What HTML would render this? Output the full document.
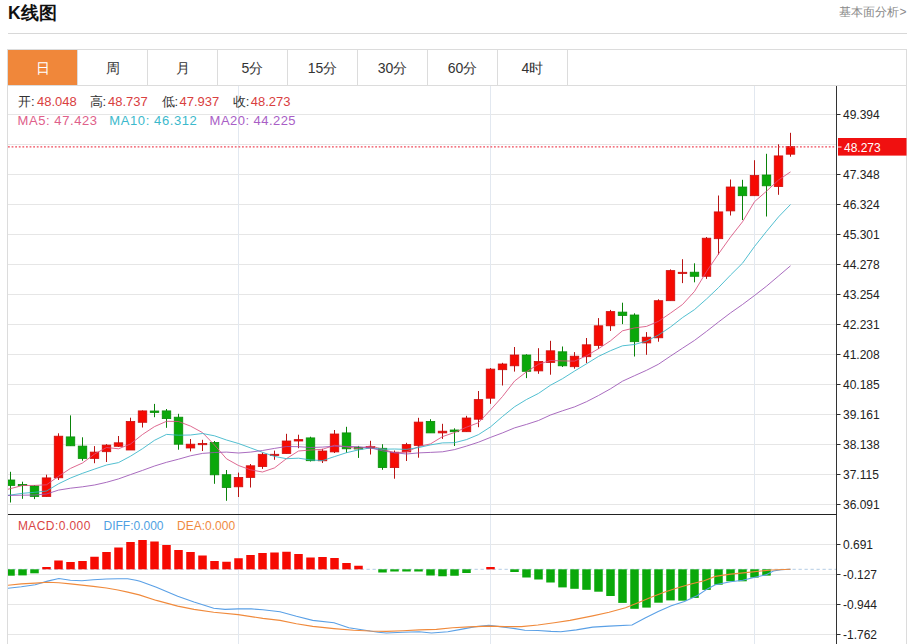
<!DOCTYPE html><html><head><meta charset="utf-8"><style>
html,body{margin:0;padding:0;background:#fff;}body{width:916px;height:644px;overflow:hidden;position:relative;font-family:"Liberation Sans",sans-serif;}
svg{position:absolute;left:0;top:0;}text{font-family:"Liberation Sans",sans-serif;}
</style></head><body>
<svg width="916" height="644" viewBox="0 0 916 644">
<defs><clipPath id="cm"><rect x="8" y="86" width="828.5" height="428"/></clipPath><clipPath id="cd"><rect x="8" y="515" width="828.5" height="129"/></clipPath></defs>
<text x="8" y="18.7" font-size="17.5" font-weight="bold" fill="#111">K线图</text>
<text x="906.5" y="15.6" font-size="12" fill="#8a8a8a" text-anchor="end">基本面分析&gt;</text>
<rect x="8" y="33" width="899" height="1" fill="#d8d8d8"/>
<rect x="7.5" y="49.5" width="899" height="620" fill="none" stroke="#dcdcdc" stroke-width="1"/>
<rect x="8" y="50" width="69.5" height="35" fill="#f0873a"/>
<text x="42.5" y="73" font-size="14" fill="#fff" text-anchor="middle">日</text>
<text x="112.5" y="73" font-size="14" fill="#333" text-anchor="middle">周</text>
<rect x="77" y="50" width="1" height="35" fill="#dcdcdc"/>
<text x="182.5" y="73" font-size="14" fill="#333" text-anchor="middle">月</text>
<rect x="147" y="50" width="1" height="35" fill="#dcdcdc"/>
<text x="252.5" y="73" font-size="14" fill="#333" text-anchor="middle">5分</text>
<rect x="217" y="50" width="1" height="35" fill="#dcdcdc"/>
<text x="322.5" y="73" font-size="14" fill="#333" text-anchor="middle">15分</text>
<rect x="287" y="50" width="1" height="35" fill="#dcdcdc"/>
<text x="392.5" y="73" font-size="14" fill="#333" text-anchor="middle">30分</text>
<rect x="357" y="50" width="1" height="35" fill="#dcdcdc"/>
<text x="462.5" y="73" font-size="14" fill="#333" text-anchor="middle">60分</text>
<rect x="427" y="50" width="1" height="35" fill="#dcdcdc"/>
<text x="532.5" y="73" font-size="14" fill="#333" text-anchor="middle">4时</text>
<rect x="497" y="50" width="1" height="35" fill="#dcdcdc"/>
<rect x="567" y="50" width="1" height="35" fill="#dcdcdc"/>
<rect x="8" y="85" width="898" height="1" fill="#dcdcdc"/>
<rect x="8" y="114" width="828" height="1" fill="#e6e6e6"/>
<rect x="8" y="144" width="828" height="1" fill="#e6e6e6"/>
<rect x="8" y="174" width="828" height="1" fill="#e6e6e6"/>
<rect x="8" y="204" width="828" height="1" fill="#e6e6e6"/>
<rect x="8" y="234" width="828" height="1" fill="#e6e6e6"/>
<rect x="8" y="264" width="828" height="1" fill="#e6e6e6"/>
<rect x="8" y="294" width="828" height="1" fill="#e6e6e6"/>
<rect x="8" y="324" width="828" height="1" fill="#e6e6e6"/>
<rect x="8" y="354" width="828" height="1" fill="#e6e6e6"/>
<rect x="8" y="384" width="828" height="1" fill="#e6e6e6"/>
<rect x="8" y="414" width="828" height="1" fill="#e6e6e6"/>
<rect x="8" y="444" width="828" height="1" fill="#e6e6e6"/>
<rect x="8" y="474" width="828" height="1" fill="#e6e6e6"/>
<rect x="8" y="504" width="828" height="1" fill="#e6e6e6"/>
<rect x="8" y="544" width="828" height="1" fill="#e6e6e6"/>
<rect x="8" y="574" width="828" height="1" fill="#e6e6e6"/>
<rect x="8" y="604" width="828" height="1" fill="#e6e6e6"/>
<rect x="8" y="634" width="828" height="1" fill="#e6e6e6"/>
<rect x="238" y="86" width="1" height="558" fill="#e2e8f0"/>
<rect x="490" y="86" width="1" height="558" fill="#e2e8f0"/>
<rect x="754" y="86" width="1" height="558" fill="#e2e8f0"/>
<rect x="836" y="86" width="1" height="558" fill="#333"/>
<rect x="8" y="514" width="828.5" height="1" fill="#222"/>
<rect x="837" y="114" width="3.5" height="1" fill="#333"/>
<text x="843" y="118.6" font-size="12" fill="#222">49.394</text>
<rect x="837" y="174" width="3.5" height="1" fill="#333"/>
<text x="843" y="178.6" font-size="12" fill="#222">47.348</text>
<rect x="837" y="204" width="3.5" height="1" fill="#333"/>
<text x="843" y="208.6" font-size="12" fill="#222">46.324</text>
<rect x="837" y="234" width="3.5" height="1" fill="#333"/>
<text x="843" y="238.6" font-size="12" fill="#222">45.301</text>
<rect x="837" y="264" width="3.5" height="1" fill="#333"/>
<text x="843" y="268.6" font-size="12" fill="#222">44.278</text>
<rect x="837" y="294" width="3.5" height="1" fill="#333"/>
<text x="843" y="298.6" font-size="12" fill="#222">43.254</text>
<rect x="837" y="324" width="3.5" height="1" fill="#333"/>
<text x="843" y="328.6" font-size="12" fill="#222">42.231</text>
<rect x="837" y="354" width="3.5" height="1" fill="#333"/>
<text x="843" y="358.6" font-size="12" fill="#222">41.208</text>
<rect x="837" y="384" width="3.5" height="1" fill="#333"/>
<text x="843" y="388.6" font-size="12" fill="#222">40.185</text>
<rect x="837" y="414" width="3.5" height="1" fill="#333"/>
<text x="843" y="418.6" font-size="12" fill="#222">39.161</text>
<rect x="837" y="444" width="3.5" height="1" fill="#333"/>
<text x="843" y="448.6" font-size="12" fill="#222">38.138</text>
<rect x="837" y="474" width="3.5" height="1" fill="#333"/>
<text x="843" y="478.6" font-size="12" fill="#222">37.115</text>
<rect x="837" y="504" width="3.5" height="1" fill="#333"/>
<text x="843" y="508.6" font-size="12" fill="#222">36.091</text>
<rect x="837" y="544" width="3.5" height="1" fill="#333"/>
<text x="843" y="548.6" font-size="12" fill="#222">0.691</text>
<rect x="837" y="574" width="3.5" height="1" fill="#333"/>
<text x="843" y="578.6" font-size="12" fill="#222">-0.127</text>
<rect x="837" y="604" width="3.5" height="1" fill="#333"/>
<text x="843" y="608.6" font-size="12" fill="#222">-0.944</text>
<rect x="837" y="634" width="3.5" height="1" fill="#333"/>
<text x="843" y="638.6" font-size="12" fill="#222">-1.762</text>
<text x="18" y="106.4" font-size="13" fill="#333">开:</text>
<text x="37" y="106.4" font-size="13" fill="#d94040">48.048</text>
<text x="89.5" y="106.4" font-size="13" fill="#333">高:</text>
<text x="108" y="106.4" font-size="13" fill="#d94040">48.737</text>
<text x="161.5" y="106.4" font-size="13" fill="#333">低:</text>
<text x="179.5" y="106.4" font-size="13" fill="#d94040">47.937</text>
<text x="232.7" y="106.4" font-size="13" fill="#333">收:</text>
<text x="250.7" y="106.4" font-size="13" fill="#d94040">48.273</text>
<text x="17.5" y="124.5" font-size="13" fill="#e0608a" textLength="79.5" lengthAdjust="spacing">MA5: 47.423</text>
<text x="109.3" y="124.5" font-size="13" fill="#3cb9cc" textLength="87.5" lengthAdjust="spacing">MA10: 46.312</text>
<text x="209.6" y="124.5" font-size="13" fill="#a95ec6" textLength="86" lengthAdjust="spacing">MA20: 44.225</text>
<text x="17.9" y="529.6" font-size="12" fill="#d94545" textLength="72.5" lengthAdjust="spacing">MACD:0.000</text>
<text x="103.5" y="529.6" font-size="12" fill="#4f9fe2">DIFF:0.000</text>
<text x="177.1" y="529.6" font-size="12" fill="#ef8a3f">DEA:0.000</text>
<g clip-path="url(#cm)">
<rect x="10.00" y="471.80" width="1" height="30.70" fill="#0a820a"/>
<rect x="6.25" y="480.00" width="8.5" height="5.40" fill="#0aa80a" stroke="#0a8c0a" stroke-width="0.8"/>
<rect x="22.00" y="481.70" width="1" height="17.10" fill="#0a820a"/>
<rect x="18.25" y="484.40" width="8.5" height="1.20" fill="#0aa80a" stroke="#0a8c0a" stroke-width="0.8"/>
<rect x="34.00" y="485.00" width="1" height="14.10" fill="#0a820a"/>
<rect x="30.25" y="486.00" width="8.5" height="10.50" fill="#0aa80a" stroke="#0a8c0a" stroke-width="0.8"/>
<rect x="46.00" y="474.70" width="1" height="21.80" fill="#b81414"/>
<rect x="42.25" y="477.90" width="8.5" height="18.60" fill="#f60a02" stroke="#cc1010" stroke-width="0.8"/>
<rect x="58.00" y="433.30" width="1" height="46.70" fill="#b81414"/>
<rect x="54.25" y="436.20" width="8.5" height="41.60" fill="#f60a02" stroke="#cc1010" stroke-width="0.8"/>
<rect x="70.00" y="415.40" width="1" height="30.40" fill="#0a820a"/>
<rect x="66.25" y="436.90" width="8.5" height="8.90" fill="#0aa80a" stroke="#0a8c0a" stroke-width="0.8"/>
<rect x="82.00" y="437.30" width="1" height="23.40" fill="#0a820a"/>
<rect x="78.25" y="446.10" width="8.5" height="12.30" fill="#0aa80a" stroke="#0a8c0a" stroke-width="0.8"/>
<rect x="94.00" y="446.10" width="1" height="17.10" fill="#b81414"/>
<rect x="90.25" y="452.10" width="8.5" height="6.30" fill="#f60a02" stroke="#cc1010" stroke-width="0.8"/>
<rect x="106.00" y="444.10" width="1" height="17.90" fill="#b81414"/>
<rect x="102.25" y="445.10" width="8.5" height="6.60" fill="#f60a02" stroke="#cc1010" stroke-width="0.8"/>
<rect x="118.00" y="436.00" width="1" height="11.00" fill="#b81414"/>
<rect x="114.25" y="442.80" width="8.5" height="3.50" fill="#f60a02" stroke="#cc1010" stroke-width="0.8"/>
<rect x="130.00" y="417.70" width="1" height="32.30" fill="#b81414"/>
<rect x="126.25" y="421.50" width="8.5" height="28.50" fill="#f60a02" stroke="#cc1010" stroke-width="0.8"/>
<rect x="142.00" y="410.40" width="1" height="17.10" fill="#b81414"/>
<rect x="138.25" y="410.90" width="8.5" height="11.40" fill="#f60a02" stroke="#cc1010" stroke-width="0.8"/>
<rect x="154.00" y="403.90" width="1" height="13.30" fill="#0a820a"/>
<rect x="150.25" y="411.00" width="8.5" height="1.50" fill="#0aa80a" stroke="#0a8c0a" stroke-width="0.8"/>
<rect x="166.00" y="409.00" width="1" height="18.80" fill="#0a820a"/>
<rect x="162.25" y="410.90" width="8.5" height="7.70" fill="#0aa80a" stroke="#0a8c0a" stroke-width="0.8"/>
<rect x="178.00" y="413.80" width="1" height="35.90" fill="#0a820a"/>
<rect x="174.25" y="417.20" width="8.5" height="27.00" fill="#0aa80a" stroke="#0a8c0a" stroke-width="0.8"/>
<rect x="190.00" y="439.00" width="1" height="12.40" fill="#b81414"/>
<rect x="186.25" y="444.20" width="8.5" height="3.80" fill="#f60a02" stroke="#cc1010" stroke-width="0.8"/>
<rect x="202.00" y="439.80" width="1" height="11.20" fill="#b81414"/>
<rect x="198.25" y="443.40" width="8.5" height="1.30" fill="#f60a02" stroke="#cc1010" stroke-width="0.8"/>
<rect x="214.00" y="441.00" width="1" height="42.80" fill="#0a820a"/>
<rect x="210.25" y="442.40" width="8.5" height="32.40" fill="#0aa80a" stroke="#0a8c0a" stroke-width="0.8"/>
<rect x="226.00" y="470.00" width="1" height="30.80" fill="#0a820a"/>
<rect x="222.25" y="474.70" width="8.5" height="12.80" fill="#0aa80a" stroke="#0a8c0a" stroke-width="0.8"/>
<rect x="238.00" y="472.60" width="1" height="24.40" fill="#b81414"/>
<rect x="234.25" y="477.40" width="8.5" height="9.40" fill="#f60a02" stroke="#cc1010" stroke-width="0.8"/>
<rect x="250.00" y="464.00" width="1" height="23.50" fill="#b81414"/>
<rect x="246.25" y="465.80" width="8.5" height="11.60" fill="#f60a02" stroke="#cc1010" stroke-width="0.8"/>
<rect x="262.00" y="452.60" width="1" height="16.30" fill="#b81414"/>
<rect x="258.25" y="454.30" width="8.5" height="12.30" fill="#f60a02" stroke="#cc1010" stroke-width="0.8"/>
<rect x="274.00" y="450.60" width="1" height="9.20" fill="#b81414"/>
<rect x="270.25" y="454.30" width="8.5" height="1.20" fill="#f60a02" stroke="#cc1010" stroke-width="0.8"/>
<rect x="286.00" y="433.80" width="1" height="19.70" fill="#b81414"/>
<rect x="282.25" y="441.00" width="8.5" height="12.50" fill="#f60a02" stroke="#cc1010" stroke-width="0.8"/>
<rect x="298.00" y="434.70" width="1" height="13.50" fill="#b81414"/>
<rect x="294.25" y="439.60" width="8.5" height="1.40" fill="#f60a02" stroke="#cc1010" stroke-width="0.8"/>
<rect x="310.00" y="436.70" width="1" height="24.80" fill="#0a820a"/>
<rect x="306.25" y="437.90" width="8.5" height="22.80" fill="#0aa80a" stroke="#0a8c0a" stroke-width="0.8"/>
<rect x="322.00" y="448.80" width="1" height="14.20" fill="#b81414"/>
<rect x="318.25" y="451.00" width="8.5" height="9.80" fill="#f60a02" stroke="#cc1010" stroke-width="0.8"/>
<rect x="334.00" y="430.00" width="1" height="23.00" fill="#b81414"/>
<rect x="330.25" y="434.00" width="8.5" height="17.90" fill="#f60a02" stroke="#cc1010" stroke-width="0.8"/>
<rect x="346.00" y="426.80" width="1" height="26.00" fill="#0a820a"/>
<rect x="342.25" y="432.90" width="8.5" height="15.90" fill="#0aa80a" stroke="#0a8c0a" stroke-width="0.8"/>
<rect x="358.00" y="445.90" width="1" height="12.00" fill="#0a820a"/>
<rect x="354.25" y="447.50" width="8.5" height="1.50" fill="#0aa80a" stroke="#0a8c0a" stroke-width="0.8"/>
<rect x="370.00" y="440.80" width="1" height="13.70" fill="#b81414"/>
<rect x="366.25" y="446.50" width="8.5" height="1.50" fill="#f60a02" stroke="#cc1010" stroke-width="0.8"/>
<rect x="382.00" y="444.20" width="1" height="25.60" fill="#0a820a"/>
<rect x="378.25" y="448.30" width="8.5" height="19.30" fill="#0aa80a" stroke="#0a8c0a" stroke-width="0.8"/>
<rect x="394.00" y="450.50" width="1" height="28.20" fill="#b81414"/>
<rect x="390.25" y="452.20" width="8.5" height="15.40" fill="#f60a02" stroke="#cc1010" stroke-width="0.8"/>
<rect x="406.00" y="442.80" width="1" height="18.20" fill="#b81414"/>
<rect x="402.25" y="444.60" width="8.5" height="7.30" fill="#f60a02" stroke="#cc1010" stroke-width="0.8"/>
<rect x="418.00" y="417.80" width="1" height="39.90" fill="#b81414"/>
<rect x="414.25" y="422.10" width="8.5" height="23.30" fill="#f60a02" stroke="#cc1010" stroke-width="0.8"/>
<rect x="430.00" y="419.20" width="1" height="13.70" fill="#0a820a"/>
<rect x="426.25" y="421.40" width="8.5" height="11.50" fill="#0aa80a" stroke="#0a8c0a" stroke-width="0.8"/>
<rect x="442.00" y="423.80" width="1" height="15.10" fill="#b81414"/>
<rect x="438.25" y="431.20" width="8.5" height="1.70" fill="#f60a02" stroke="#cc1010" stroke-width="0.8"/>
<rect x="454.00" y="428.30" width="1" height="17.70" fill="#0a820a"/>
<rect x="450.25" y="430.00" width="8.5" height="1.70" fill="#0aa80a" stroke="#0a8c0a" stroke-width="0.8"/>
<rect x="466.00" y="415.80" width="1" height="15.90" fill="#b81414"/>
<rect x="462.25" y="418.00" width="8.5" height="13.70" fill="#f60a02" stroke="#cc1010" stroke-width="0.8"/>
<rect x="478.00" y="391.00" width="1" height="36.20" fill="#b81414"/>
<rect x="474.25" y="399.60" width="8.5" height="19.60" fill="#f60a02" stroke="#cc1010" stroke-width="0.8"/>
<rect x="490.00" y="368.00" width="1" height="35.80" fill="#b81414"/>
<rect x="486.25" y="369.10" width="8.5" height="29.10" fill="#f60a02" stroke="#cc1010" stroke-width="0.8"/>
<rect x="502.00" y="362.80" width="1" height="22.70" fill="#b81414"/>
<rect x="498.25" y="364.00" width="8.5" height="5.70" fill="#f60a02" stroke="#cc1010" stroke-width="0.8"/>
<rect x="514.00" y="347.00" width="1" height="24.60" fill="#b81414"/>
<rect x="510.25" y="355.00" width="8.5" height="10.80" fill="#f60a02" stroke="#cc1010" stroke-width="0.8"/>
<rect x="526.00" y="354.20" width="1" height="23.90" fill="#0a820a"/>
<rect x="522.25" y="355.00" width="8.5" height="16.30" fill="#0aa80a" stroke="#0a8c0a" stroke-width="0.8"/>
<rect x="538.00" y="348.20" width="1" height="25.60" fill="#b81414"/>
<rect x="534.25" y="361.50" width="8.5" height="9.40" fill="#f60a02" stroke="#cc1010" stroke-width="0.8"/>
<rect x="550.00" y="340.80" width="1" height="33.90" fill="#b81414"/>
<rect x="546.25" y="350.80" width="8.5" height="11.60" fill="#f60a02" stroke="#cc1010" stroke-width="0.8"/>
<rect x="562.00" y="346.50" width="1" height="20.50" fill="#0a820a"/>
<rect x="558.25" y="351.80" width="8.5" height="14.00" fill="#0aa80a" stroke="#0a8c0a" stroke-width="0.8"/>
<rect x="574.00" y="352.10" width="1" height="16.60" fill="#b81414"/>
<rect x="570.25" y="356.20" width="8.5" height="10.50" fill="#f60a02" stroke="#cc1010" stroke-width="0.8"/>
<rect x="586.00" y="338.00" width="1" height="25.10" fill="#b81414"/>
<rect x="582.25" y="344.80" width="8.5" height="11.90" fill="#f60a02" stroke="#cc1010" stroke-width="0.8"/>
<rect x="598.00" y="318.10" width="1" height="30.80" fill="#b81414"/>
<rect x="594.25" y="325.80" width="8.5" height="19.60" fill="#f60a02" stroke="#cc1010" stroke-width="0.8"/>
<rect x="610.00" y="309.90" width="1" height="21.00" fill="#b81414"/>
<rect x="606.25" y="311.60" width="8.5" height="14.20" fill="#f60a02" stroke="#cc1010" stroke-width="0.8"/>
<rect x="622.00" y="302.70" width="1" height="21.40" fill="#0a820a"/>
<rect x="618.25" y="312.10" width="8.5" height="3.40" fill="#0aa80a" stroke="#0a8c0a" stroke-width="0.8"/>
<rect x="634.00" y="313.30" width="1" height="43.20" fill="#0a820a"/>
<rect x="630.25" y="315.00" width="8.5" height="26.70" fill="#0aa80a" stroke="#0a8c0a" stroke-width="0.8"/>
<rect x="646.00" y="332.10" width="1" height="22.70" fill="#b81414"/>
<rect x="642.25" y="337.20" width="8.5" height="5.70" fill="#f60a02" stroke="#cc1010" stroke-width="0.8"/>
<rect x="658.00" y="299.30" width="1" height="42.40" fill="#b81414"/>
<rect x="654.25" y="300.70" width="8.5" height="37.10" fill="#f60a02" stroke="#cc1010" stroke-width="0.8"/>
<rect x="670.00" y="269.40" width="1" height="31.30" fill="#b81414"/>
<rect x="666.25" y="270.60" width="8.5" height="30.10" fill="#f60a02" stroke="#cc1010" stroke-width="0.8"/>
<rect x="682.00" y="259.20" width="1" height="23.90" fill="#b81414"/>
<rect x="678.25" y="272.30" width="8.5" height="1.20" fill="#f60a02" stroke="#cc1010" stroke-width="0.8"/>
<rect x="694.00" y="263.30" width="1" height="19.00" fill="#0a820a"/>
<rect x="690.25" y="272.20" width="8.5" height="4.10" fill="#0aa80a" stroke="#0a8c0a" stroke-width="0.8"/>
<rect x="706.00" y="237.00" width="1" height="41.90" fill="#b81414"/>
<rect x="702.25" y="238.20" width="8.5" height="38.10" fill="#f60a02" stroke="#cc1010" stroke-width="0.8"/>
<rect x="718.00" y="195.50" width="1" height="59.10" fill="#b81414"/>
<rect x="714.25" y="211.90" width="8.5" height="26.80" fill="#f60a02" stroke="#cc1010" stroke-width="0.8"/>
<rect x="730.00" y="179.50" width="1" height="36.00" fill="#b81414"/>
<rect x="726.25" y="187.00" width="8.5" height="23.90" fill="#f60a02" stroke="#cc1010" stroke-width="0.8"/>
<rect x="742.00" y="179.80" width="1" height="40.20" fill="#0a820a"/>
<rect x="738.25" y="187.00" width="8.5" height="8.70" fill="#0aa80a" stroke="#0a8c0a" stroke-width="0.8"/>
<rect x="754.00" y="160.20" width="1" height="35.50" fill="#b81414"/>
<rect x="750.25" y="175.50" width="8.5" height="20.20" fill="#f60a02" stroke="#cc1010" stroke-width="0.8"/>
<rect x="766.00" y="153.80" width="1" height="62.70" fill="#0a820a"/>
<rect x="762.25" y="175.00" width="8.5" height="10.80" fill="#0aa80a" stroke="#0a8c0a" stroke-width="0.8"/>
<rect x="778.00" y="144.30" width="1" height="50.50" fill="#b81414"/>
<rect x="774.25" y="155.90" width="8.5" height="30.70" fill="#f60a02" stroke="#cc1010" stroke-width="0.8"/>
<rect x="790.00" y="132.80" width="1" height="23.90" fill="#b81414"/>
<rect x="786.25" y="146.50" width="8.5" height="7.70" fill="#f60a02" stroke="#cc1010" stroke-width="0.8"/>
<polyline points="-1.5,491.7 10.5,488.6 22.5,485.5 34.5,485.4 46.5,484.8 58.5,476.3 70.5,468.4 82.5,463.0 94.5,454.1 106.5,447.5 118.5,448.8 130.5,444.0 142.5,434.5 154.5,426.6 166.5,421.3 178.5,421.5 190.5,426.1 202.5,432.6 214.5,445.0 226.5,458.8 238.5,465.5 250.5,469.8 262.5,472.0 274.5,467.9 286.5,458.6 298.5,451.0 310.5,450.0 322.5,449.3 334.5,445.3 346.5,446.8 358.5,448.7 370.5,445.9 382.5,449.2 394.5,452.8 406.5,452.0 418.5,446.6 430.5,443.9 442.5,436.6 454.5,432.5 466.5,427.2 478.5,422.7 490.5,409.9 502.5,396.5 514.5,381.1 526.5,371.8 538.5,364.2 550.5,360.5 562.5,360.9 574.5,361.1 586.5,355.8 598.5,348.7 610.5,340.8 622.5,330.8 634.5,327.9 646.5,326.4 658.5,321.3 670.5,313.1 682.5,304.5 694.5,291.4 706.5,271.6 718.5,253.9 730.5,237.1 742.5,221.8 754.5,201.7 766.5,191.2 778.5,180.0 790.5,171.9" fill="none" stroke="#d8507e" stroke-width="1" stroke-opacity="0.85"/>
<polyline points="-1.5,496.7 10.5,495.0 22.5,493.3 34.5,492.3 46.5,491.0 58.5,483.8 70.5,478.0 82.5,473.3 94.5,469.1 106.5,465.0 118.5,462.6 130.5,456.2 142.5,448.7 154.5,440.3 166.5,434.4 178.5,435.2 190.5,435.0 202.5,433.5 214.5,435.8 226.5,440.0 238.5,443.5 250.5,447.9 262.5,452.3 274.5,456.4 286.5,458.7 298.5,458.2 310.5,459.9 322.5,460.6 334.5,456.6 346.5,452.7 358.5,449.9 370.5,447.9 382.5,449.2 394.5,449.0 406.5,449.4 418.5,447.6 430.5,444.9 442.5,442.9 454.5,442.7 466.5,439.6 478.5,434.6 490.5,426.9 502.5,416.5 514.5,406.8 526.5,399.5 538.5,393.4 550.5,385.2 562.5,378.7 574.5,371.1 586.5,363.8 598.5,356.4 610.5,350.7 622.5,345.8 634.5,344.5 646.5,341.1 658.5,335.0 670.5,327.0 682.5,317.6 694.5,309.6 706.5,299.0 718.5,287.6 730.5,275.1 742.5,263.2 754.5,246.5 766.5,231.4 778.5,216.9 790.5,204.5" fill="none" stroke="#34b4c8" stroke-width="1" stroke-opacity="0.85"/>
<polyline points="-1.5,495.6 10.5,495.4 22.5,495.2 34.5,495.0 46.5,494.0 58.5,490.1 70.5,488.2 82.5,486.8 94.5,485.0 106.5,482.3 118.5,478.9 130.5,474.6 142.5,470.4 154.5,466.0 166.5,462.3 178.5,459.2 190.5,455.8 202.5,453.4 214.5,452.5 226.5,452.1 238.5,453.0 250.5,452.1 262.5,450.5 274.5,448.4 286.5,446.5 298.5,446.7 310.5,447.5 322.5,447.1 334.5,446.2 346.5,446.4 358.5,446.7 370.5,447.9 382.5,450.8 394.5,452.7 406.5,454.0 418.5,452.9 430.5,452.4 442.5,451.8 454.5,449.6 466.5,446.1 478.5,442.2 490.5,437.4 502.5,432.9 514.5,427.9 526.5,424.4 538.5,420.5 550.5,415.0 562.5,410.8 574.5,406.9 586.5,401.7 598.5,395.5 610.5,388.8 622.5,381.2 634.5,375.7 646.5,370.3 658.5,364.2 670.5,356.1 682.5,348.2 694.5,340.4 706.5,331.4 718.5,322.0 730.5,312.9 742.5,304.5 754.5,295.5 766.5,286.2 778.5,276.0 790.5,265.8" fill="none" stroke="#9a52b4" stroke-width="1" stroke-opacity="0.85"/>
<line x1="8" y1="146.9" x2="836" y2="146.9" stroke="#f04a5a" stroke-width="1.2" stroke-dasharray="1.8 1.8"/>
</g>
<rect x="838" y="138" width="68.5" height="17.6" fill="#f01010"/>
<rect x="838" y="146.5" width="3.5" height="1" fill="#fff"/>
<text x="844" y="151.5" font-size="12" fill="#fff">48.273</text>
<g clip-path="url(#cd)">
<line x1="8" y1="569.3" x2="836" y2="569.3" stroke="#b4cce4" stroke-width="1" stroke-dasharray="3.3 2.7" stroke-dashoffset="1.5"/>
<rect x="6.25" y="569.30" width="8.5" height="6.40" fill="#0aa80a"/>
<rect x="18.25" y="569.30" width="8.5" height="6.10" fill="#0aa80a"/>
<rect x="30.25" y="569.30" width="8.5" height="4.00" fill="#0aa80a"/>
<rect x="42.25" y="567.00" width="8.5" height="2.30" fill="#f60a02"/>
<rect x="54.25" y="560.50" width="8.5" height="8.80" fill="#f60a02"/>
<rect x="66.25" y="562.00" width="8.5" height="7.30" fill="#f60a02"/>
<rect x="78.25" y="561.00" width="8.5" height="8.30" fill="#f60a02"/>
<rect x="90.25" y="556.75" width="8.5" height="12.55" fill="#f60a02"/>
<rect x="102.25" y="552.00" width="8.5" height="17.30" fill="#f60a02"/>
<rect x="114.25" y="547.50" width="8.5" height="21.80" fill="#f60a02"/>
<rect x="126.25" y="542.00" width="8.5" height="27.30" fill="#f60a02"/>
<rect x="138.25" y="540.00" width="8.5" height="29.30" fill="#f60a02"/>
<rect x="150.25" y="541.50" width="8.5" height="27.80" fill="#f60a02"/>
<rect x="162.25" y="545.00" width="8.5" height="24.30" fill="#f60a02"/>
<rect x="174.25" y="550.00" width="8.5" height="19.30" fill="#f60a02"/>
<rect x="186.25" y="552.00" width="8.5" height="17.30" fill="#f60a02"/>
<rect x="198.25" y="555.50" width="8.5" height="13.80" fill="#f60a02"/>
<rect x="210.25" y="561.00" width="8.5" height="8.30" fill="#f60a02"/>
<rect x="222.25" y="561.75" width="8.5" height="7.55" fill="#f60a02"/>
<rect x="234.25" y="558.25" width="8.5" height="11.05" fill="#f60a02"/>
<rect x="246.25" y="555.00" width="8.5" height="14.30" fill="#f60a02"/>
<rect x="258.25" y="553.00" width="8.5" height="16.30" fill="#f60a02"/>
<rect x="270.25" y="552.50" width="8.5" height="16.80" fill="#f60a02"/>
<rect x="282.25" y="551.75" width="8.5" height="17.55" fill="#f60a02"/>
<rect x="294.25" y="554.00" width="8.5" height="15.30" fill="#f60a02"/>
<rect x="306.25" y="557.50" width="8.5" height="11.80" fill="#f60a02"/>
<rect x="318.25" y="557.00" width="8.5" height="12.30" fill="#f60a02"/>
<rect x="330.25" y="558.00" width="8.5" height="11.30" fill="#f60a02"/>
<rect x="342.25" y="563.00" width="8.5" height="6.30" fill="#f60a02"/>
<rect x="354.25" y="565.75" width="8.5" height="3.55" fill="#f60a02"/>
<rect x="378.25" y="569.30" width="8.5" height="3.20" fill="#0aa80a"/>
<rect x="390.25" y="569.30" width="8.5" height="2.20" fill="#0aa80a"/>
<rect x="402.25" y="569.30" width="8.5" height="2.20" fill="#0aa80a"/>
<rect x="414.25" y="569.30" width="8.5" height="2.20" fill="#0aa80a"/>
<rect x="426.25" y="569.30" width="8.5" height="6.20" fill="#0aa80a"/>
<rect x="438.25" y="569.30" width="8.5" height="6.95" fill="#0aa80a"/>
<rect x="450.25" y="569.30" width="8.5" height="6.45" fill="#0aa80a"/>
<rect x="462.25" y="569.30" width="8.5" height="3.70" fill="#0aa80a"/>
<rect x="486.25" y="567.00" width="8.5" height="2.30" fill="#f60a02"/>
<rect x="510.25" y="569.30" width="8.5" height="2.70" fill="#0aa80a"/>
<rect x="522.25" y="569.30" width="8.5" height="8.20" fill="#0aa80a"/>
<rect x="534.25" y="569.30" width="8.5" height="10.20" fill="#0aa80a"/>
<rect x="546.25" y="569.30" width="8.5" height="13.20" fill="#0aa80a"/>
<rect x="558.25" y="569.30" width="8.5" height="18.10" fill="#0aa80a"/>
<rect x="570.25" y="569.30" width="8.5" height="19.50" fill="#0aa80a"/>
<rect x="582.25" y="569.30" width="8.5" height="20.50" fill="#0aa80a"/>
<rect x="594.25" y="569.30" width="8.5" height="22.40" fill="#0aa80a"/>
<rect x="606.25" y="569.30" width="8.5" height="26.70" fill="#0aa80a"/>
<rect x="618.25" y="569.30" width="8.5" height="33.60" fill="#0aa80a"/>
<rect x="630.25" y="569.30" width="8.5" height="39.50" fill="#0aa80a"/>
<rect x="642.25" y="569.30" width="8.5" height="38.30" fill="#0aa80a"/>
<rect x="654.25" y="569.30" width="8.5" height="33.40" fill="#0aa80a"/>
<rect x="666.25" y="569.30" width="8.5" height="31.10" fill="#0aa80a"/>
<rect x="678.25" y="569.30" width="8.5" height="31.40" fill="#0aa80a"/>
<rect x="690.25" y="569.30" width="8.5" height="28.60" fill="#0aa80a"/>
<rect x="702.25" y="569.30" width="8.5" height="20.60" fill="#0aa80a"/>
<rect x="714.25" y="569.30" width="8.5" height="15.40" fill="#0aa80a"/>
<rect x="726.25" y="569.30" width="8.5" height="12.00" fill="#0aa80a"/>
<rect x="738.25" y="569.30" width="8.5" height="12.00" fill="#0aa80a"/>
<rect x="750.25" y="569.30" width="8.5" height="8.30" fill="#0aa80a"/>
<rect x="762.25" y="569.30" width="8.5" height="6.30" fill="#0aa80a"/>
<polyline points="-2.0,588.8 7.9,588.3 21.3,586.7 35.2,584.7 47.5,581.1 58.9,578.5 70.4,580.2 81.9,580.8 93.3,579.8 106.4,579.0 117.9,578.7 127.7,578.7 135.9,580.2 140.0,581.2 156.4,587.3 177.7,596.3 194.0,602.0 213.7,608.2 225.1,609.4 238.2,608.9 251.3,608.9 262.8,609.7 280.0,611.7 296.4,616.3 312.7,620.4 334.0,622.8 348.8,627.7 365.1,630.2 378.2,632.3 386.4,633.0 402.8,632.3 419.2,631.8 431.5,633.0 447.8,631.8 460.9,629.4 474.0,626.9 488.8,625.3 501.9,626.9 515.0,628.6 524.8,630.2 537.9,630.5 551.0,631.4 560.8,631.8 576.4,629.9 592.7,627.1 609.1,626.1 632.0,625.0 645.1,617.9 658.2,611.4 671.3,605.8 684.4,601.5 697.5,595.5 707.4,588.9 715.3,584.8 730.6,581.7 742.8,580.2 755.0,577.2 765.7,574.9 773.4,571.0 781.0,569.8 790.5,569.3" fill="none" stroke="#5aa0e6" stroke-width="1.1"/>
<polyline points="-2.0,585.4 7.9,585.2 21.3,583.9 35.2,583.1 47.5,582.3 58.9,582.8 70.4,583.9 81.9,585.1 93.3,586.4 106.4,588.0 117.9,590.0 127.7,592.1 139.2,594.9 156.4,600.4 177.7,606.1 194.0,609.4 213.7,612.3 238.2,614.6 262.8,618.4 280.0,620.4 296.4,623.7 312.7,626.4 334.0,628.6 353.7,630.2 370.1,631.0 386.4,631.4 402.8,630.7 419.2,629.9 436.4,629.4 452.7,627.7 469.1,626.9 488.8,626.1 505.1,626.6 521.5,626.6 537.9,625.0 554.3,622.8 570.0,620.4 592.7,615.9 609.1,612.3 625.5,607.7 638.6,602.5 651.7,597.1 664.8,591.9 677.9,587.8 691.0,584.0 704.1,580.7 715.3,576.4 730.6,574.1 745.9,572.6 761.1,571.0 771.8,570.0 790.5,569.3" fill="none" stroke="#f08a3c" stroke-width="1.1"/>
</g>
</svg></body></html>
